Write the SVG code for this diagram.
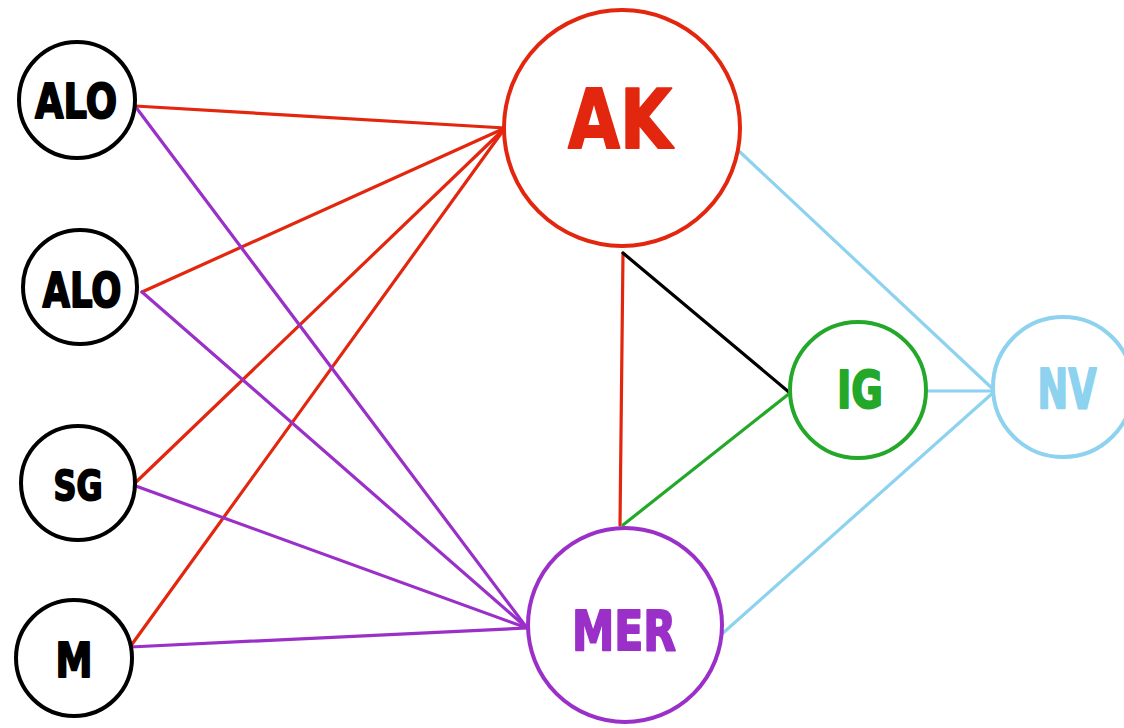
<svg xmlns="http://www.w3.org/2000/svg" width="1124" height="728" viewBox="0 0 1124 728">
<style>
.node{fill:#fff;stroke-width:4}
.lbl{font-family:"DejaVu Sans","Liberation Sans",sans-serif;font-weight:bold;text-anchor:middle;stroke-width:2;stroke-linejoin:round}
.edge{stroke-width:3.2;fill:none;stroke-linecap:round}
.red{stroke:#e3260e}.pur{stroke:#9b30c8}.grn{stroke:#24a82a}.blu{stroke:#8dd2ee}.blk{stroke:#000}
</style>
<rect width="1124" height="728" fill="#fff"/>
<g id="connectors">
<line class="edge red" x1="135" y1="106" x2="505" y2="128"/>
<line class="edge red" x1="142" y1="292" x2="505" y2="128"/>
<line class="edge red" x1="133" y1="485" x2="505" y2="128"/>
<line class="edge red" x1="130" y1="647" x2="505" y2="128"/>
<line class="edge pur" x1="135" y1="106" x2="527" y2="628"/>
<line class="edge pur" x1="142" y1="292" x2="527" y2="628"/>
<line class="edge pur" x1="133" y1="485" x2="527" y2="628"/>
<line class="edge pur" x1="130" y1="647" x2="527" y2="628"/>
<line class="edge red" x1="623" y1="253" x2="620" y2="525"/>
<line class="edge blk" x1="623" y1="253" x2="790" y2="393"/>
<line class="edge grn" x1="623" y1="525" x2="790" y2="393"/>
<line class="edge blu" x1="740" y1="152" x2="995" y2="391"/>
<line class="edge blu" x1="926" y1="391" x2="995" y2="391"/>
<line class="edge blu" x1="723" y1="633" x2="995" y2="391"/>
</g>
<g id="alo1"><circle class="node" cx="77" cy="100" r="58" stroke="#000"/><text class="lbl" x="76" y="118" font-size="48" textLength="82" lengthAdjust="spacingAndGlyphs" fill="#000" stroke="#000">ALO</text></g>
<g id="alo2"><circle class="node" cx="80" cy="287" r="57" stroke="#000"/><text class="lbl" x="82" y="307" font-size="48" textLength="79" lengthAdjust="spacingAndGlyphs" fill="#000" stroke="#000">ALO</text></g>
<g id="sg"><circle class="node" cx="78" cy="483" r="57" stroke="#000"/><text class="lbl" x="78" y="500" font-size="41" textLength="49" lengthAdjust="spacingAndGlyphs" fill="#000" stroke="#000">SG</text></g>
<g id="m"><circle class="node" cx="74" cy="658" r="58" stroke="#000"/><text class="lbl" x="74" y="677" font-size="48" textLength="37" lengthAdjust="spacingAndGlyphs" fill="#000" stroke="#000">M</text></g>
<g id="ak"><circle class="node" cx="622" cy="128" r="118" stroke="#e3260e"/><text class="lbl" x="620" y="148" font-size="82" textLength="104" lengthAdjust="spacingAndGlyphs" fill="#e3260e" stroke="#e3260e">AK</text></g>
<g id="mer"><circle class="node" cx="625" cy="625" r="97" stroke="#9b30c8"/><text class="lbl" x="624" y="650" font-size="55" textLength="104" lengthAdjust="spacingAndGlyphs" fill="#9b30c8" stroke="#9b30c8">MER</text></g>
<g id="ig"><circle class="node" cx="858" cy="390" r="68" stroke="#24a82a"/><text class="lbl" x="860" y="408" font-size="51" textLength="46" lengthAdjust="spacingAndGlyphs" fill="#24a82a" stroke="#24a82a">IG</text></g>
<g id="nv"><circle class="node" cx="1063" cy="387" r="70" stroke="#8dd2ee"/><text class="lbl" x="1067" y="408" font-size="55" textLength="59" lengthAdjust="spacingAndGlyphs" fill="#8dd2ee" stroke="#8dd2ee">NV</text></g>
</svg>
